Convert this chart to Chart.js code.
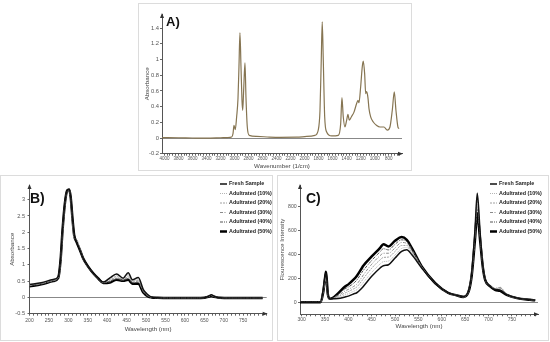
<!DOCTYPE html>
<html>
<head>
<meta charset="utf-8">
<script src="https://cdn.jsdelivr.net/npm/chart.js@4.4.0/dist/chart.umd.min.js"></script>
<style>
    body { margin: 0; background: #fff; width: 550px; height: 342px; overflow: hidden; position: relative; font-family: "Liberation Sans", Arial, sans-serif; }
    .box { position: absolute; border: 1px solid #dcdcdc; box-sizing: border-box; }
    canvas { position: absolute; }
    .tag { position: absolute; font-weight: bold; line-height: 1; color: #111; }
</style>
</head>
<body>
<div class="box" style="left:138px;top:3px;width:274px;height:168px"></div>
<div class="box" style="left:0;top:175px;width:273px;height:166px"></div>
<div class="box" style="left:277px;top:175px;width:272px;height:166px"></div>
<canvas id="chartA" width="274" height="167" style="left:138px;top:3px"></canvas>
<canvas id="chartB" width="272" height="164" style="left:0;top:178px"></canvas>
<canvas id="chartC" width="271" height="164" style="left:277px;top:178px"></canvas>
<div class="tag" style="left:166px;top:15px;font-size:13px">A)</div>
<div class="tag" style="left:30px;top:191px;font-size:14px">B)</div>
<div class="tag" style="left:306px;top:191px;font-size:14px">C)</div>
<script>
// A) FTIR spectrum
const wnA = [4034, 3800, 3600, 3400, 3200, 3100, 3040, 3021, 3007, 2989, 2969, 2950, 2936, 2922, 2907, 2893, 2883, 2869, 2850, 2836,
    2817, 2789, 2683, 2500, 2351, 2113, 1970, 1852, 1805, 1780, 1762, 1748, 1733, 1713, 1685, 1613, 1519, 1485, 1467, 1448,
    1424, 1400, 1381, 1362, 1328, 1295, 1257, 1238, 1224, 1200, 1177, 1163, 1143, 1128, 1114, 1096, 1081, 1057, 1020, 971,
    924, 867, 820, 782, 749, 720, 696, 668, 653];
const absA = [0.005, 0.003, 0, -0.002, 0.003, 0.006, 0.013, 0.056, 0.162, 0.107, 0.27, 0.50, 0.906, 1.34, 0.906, 0.48, 0.353, 0.61, 0.957, 0.52,
    0.14, 0.034, 0.02, 0.012, 0.009, 0.01, 0.02, 0.034, 0.1, 0.35, 0.99, 1.48, 0.99, 0.27, 0.077, 0.026, 0.034, 0.18, 0.515, 0.27,
    0.14, 0.226, 0.30, 0.226, 0.277, 0.33, 0.44, 0.48, 0.45, 0.65, 0.906, 0.98, 0.82, 0.566, 0.59, 0.515, 0.375, 0.27, 0.204, 0.16,
    0.14, 0.14, 0.1, 0.14, 0.35, 0.587, 0.35, 0.14, 0.12];

const seriesLabels = ['Fresh Sample', 'Adultrated (10%)', 'Adultrated (20%)', 'Adultrated (30%)', 'Adultrated (40%)', 'Adultrated (50%)'];

// B) UV-Vis absorbance
const wlB = [200, 230, 261, 274, 280, 285, 291, 297, 302, 306, 311, 315, 321, 330, 338, 351, 364, 377, 390, 407,
    424, 441, 454, 465, 480, 493, 505, 514, 530, 600, 650, 660, 668, 676, 690, 750, 800];
const freshB = [0.40, 0.45, 0.55, 0.64, 1.15, 2.06, 2.88, 3.28, 3.31, 3.08, 2.37, 1.91, 1.71, 1.45, 1.20, 0.945, 0.74, 0.58, 0.47, 0.60,
    0.72, 0.59, 0.76, 0.54, 0.61, 0.24, 0.08, 0.01, -0.01, -0.02, -0.01, 0.03, 0.08, 0.03, -0.01, -0.02, -0.02];
const adult10B = [0.39, 0.44, 0.54, 0.63, 1.10, 2.00, 2.85, 3.27, 3.30, 3.05, 2.30, 1.86, 1.75, 1.47, 1.20, 0.94, 0.74, 0.58, 0.47, 0.57,
    0.68, 0.57, 0.71, 0.52, 0.57, 0.22, 0.07, 0.01, -0.01, -0.02, -0.01, 0.03, 0.07, 0.03, -0.01, -0.02, -0.02];
const adult20B = [0.38, 0.43, 0.53, 0.62, 1.08, 1.98, 2.83, 3.26, 3.29, 3.04, 2.28, 1.84, 1.79, 1.48, 1.19, 0.94, 0.73, 0.57, 0.46, 0.54,
    0.64, 0.55, 0.66, 0.50, 0.53, 0.21, 0.06, 0.01, -0.01, -0.02, -0.01, 0.02, 0.065, 0.02, -0.01, -0.02, -0.02];
const adult30B = [0.37, 0.42, 0.52, 0.61, 1.06, 1.96, 2.82, 3.26, 3.29, 3.03, 2.26, 1.82, 1.77, 1.47, 1.19, 0.93, 0.73, 0.57, 0.46, 0.51,
    0.60, 0.54, 0.62, 0.48, 0.50, 0.19, 0.05, 0.01, -0.01, -0.02, -0.01, 0.02, 0.06, 0.02, -0.01, -0.02, -0.02];
const adult40B = [0.355, 0.41, 0.51, 0.60, 1.10, 2.02, 2.86, 3.27, 3.30, 3.06, 2.32, 1.87, 1.72, 1.46, 1.20, 0.94, 0.74, 0.58, 0.45, 0.48,
    0.57, 0.52, 0.58, 0.45, 0.46, 0.17, 0.04, 0.00, -0.01, -0.02, -0.01, 0.02, 0.05, 0.02, -0.01, -0.02, -0.02];
const adult50B = [0.34, 0.40, 0.50, 0.60, 1.15, 2.06, 2.88, 3.28, 3.31, 3.08, 2.37, 1.91, 1.71, 1.45, 1.20, 0.945, 0.74, 0.58, 0.44, 0.46,
    0.54, 0.51, 0.54, 0.42, 0.42, 0.15, 0.03, 0.00, -0.01, -0.02, -0.01, 0.02, 0.04, 0.02, -0.01, -0.02, -0.02];

// C) fluorescence
const wlC = [296, 340, 346, 350, 352, 354, 356, 361, 366, 378, 393, 400, 411, 418, 429, 432, 450, 468, 475, 486,
    500, 514, 525, 536, 557, 586, 614, 630, 646, 657, 664, 671, 676, 682, 688, 693, 703, 714, 725, 739, 761, 789, 800];
const freshC = [0, 0, 100, 215, 240, 190, 80, 28, 30, 32, 45, 52, 70, 80, 120, 133, 217, 287, 306, 314,
    370, 425, 439, 397, 287, 155, 80, 60, 48, 92, 245, 600, 911, 590, 300, 192, 135, 108, 102, 64, 36, 22, 17];
const adult10C = [0, 0, 95, 190, 215, 170, 75, 28, 31, 40, 62, 72, 92, 105, 150, 165, 250, 320, 340, 345,
    395, 450, 458, 410, 290, 157, 80, 60, 47, 91, 242, 590, 880, 585, 300, 192, 137, 112, 118, 66, 36, 22, 17];
const adult20C = [0, 0, 90, 180, 205, 165, 72, 28, 32, 48, 78, 90, 112, 128, 180, 197, 285, 355, 375, 378,
    425, 475, 475, 420, 293, 158, 80, 60, 47, 90, 238, 575, 850, 575, 298, 191, 138, 115, 122, 66, 36, 22, 17];
const adult30C = [0, 0, 85, 170, 195, 160, 70, 29, 33, 56, 95, 108, 132, 152, 210, 228, 318, 390, 410, 410,
    455, 500, 492, 432, 296, 159, 79, 60, 46, 89, 232, 560, 815, 560, 296, 190, 138, 116, 125, 65, 36, 22, 17];
const adult40C = [0, 0, 82, 165, 200, 155, 70, 29, 34, 65, 113, 128, 158, 185, 250, 266, 350, 422, 448, 438,
    485, 522, 507, 443, 298, 160, 79, 60, 46, 87, 226, 540, 780, 545, 293, 188, 137, 112, 120, 64, 35, 21, 17];
const adult50C = [0, 0, 80, 200, 255, 180, 70, 30, 35, 75, 133, 150, 189, 220, 287, 305, 383, 455, 486, 467,
    514, 545, 522, 453, 300, 161, 78, 60, 45, 85, 220, 520, 745, 520, 290, 185, 135, 105, 95, 62, 35, 21, 17];

// line look per series (same order as seriesLabels)
const seriesStyles = [
    { color: '#111', width: 1.5, dash: [] },
    { color: '#b4b4b4', width: 1, dash: [1, 1] },
    { color: '#a0a0a0', width: 1, dash: [2, 1] },
    { color: '#8a8a8a', width: 1, dash: [3, 1.5, 1, 1.5] },
    { color: '#555', width: 1, dash: [3, 1, 1, 1] },
    { color: '#000', width: 2.5, dash: [] }
];

const fontFamily = '"Liberation Sans", Arial, sans-serif';
const titleFont = { family: fontFamily, size: 6.2 };

function toPoints(xs, ys) {
    return xs.map((x, i) => ({ x: x, y: ys[i] }));
}

function buildSeries(xs, list) {
    return list.map((ys, i) => ({
        label: seriesLabels[i],
        data: toPoints(xs, ys),
        borderColor: seriesStyles[i].color,
        borderWidth: seriesStyles[i].width,
        borderDash: seriesStyles[i].dash,
        fill: false
    }));
}

// little arrow heads at the end of both axes
const axisArrows = {
    id: 'axisArrows',
    afterDraw(chart) {
        const { left, right, top, bottom } = chart.chartArea;
        const ctx = chart.ctx;
        ctx.save();
        ctx.fillStyle = '#333';
        ctx.beginPath();
        ctx.moveTo(left, top - 1); ctx.lineTo(left - 2, top + 4); ctx.lineTo(left + 2, top + 4);
        ctx.fill();
        ctx.beginPath();
        ctx.moveTo(right + 1, bottom); ctx.lineTo(right - 4, bottom - 2); ctx.lineTo(right - 4, bottom + 2);
        ctx.fill();
        ctx.restore();
    }
};

// legend column inside the plot (top right)
const sideLegend = {
    id: 'sideLegend',
    afterDatasetsDraw(chart, args, opts) {
        if (!opts || opts.x == null) return;
        const ctx = chart.ctx;
        ctx.save();
        ctx.font = 'bold 5.4px ' + fontFamily;
        ctx.textBaseline = 'middle';
        chart.data.datasets.forEach((ds, i) => {
            const y = opts.y + i * opts.rowH;
            ctx.strokeStyle = ds.borderColor;
            ctx.lineWidth = ds.borderWidth;
            ctx.setLineDash(ds.borderDash || []);
            ctx.beginPath(); ctx.moveTo(opts.x, y); ctx.lineTo(opts.x + 7, y); ctx.stroke();
            ctx.setLineDash([]);
            ctx.fillStyle = '#222';
            ctx.fillText(ds.label, opts.x + 9, y);
        });
        ctx.restore();
    }
};

function spectrumChart(id, cfg) {
    return new Chart(document.getElementById(id), {
        type: 'line',
        data: { datasets: cfg.datasets },
        options: {
            animation: false, responsive: false, devicePixelRatio: 1,
            layout: { padding: { top: cfg.padTop, right: cfg.padRight, left: 0, bottom: 0 } },
            elements: { point: { radius: 0 }, line: { cubicInterpolationMode: 'monotone' } },
            plugins: { legend: { display: false }, tooltip: { enabled: false }, sideLegend: cfg.legend || {} },
            scales: {
                x: {
                    type: 'linear', reverse: !!cfg.reverse, min: cfg.xMin, max: cfg.xMax,
                    afterFit: s => { s.height = cfg.xAxisH; },
                    border: { color: '#555' },
                    grid: { drawOnChartArea: false, tickLength: 2, color: '#666' },
                    ticks: {
                        stepSize: cfg.xStep, autoSkip: false, maxRotation: 0, minRotation: 0, includeBounds: false,
                        padding: cfg.xTickPad, font: { family: fontFamily, size: cfg.xTickSize }, color: '#555',
                        callback: v => (Math.round(v) % cfg.xMajor === 0 && v <= cfg.xLabelMax) ? String(Math.round(v)) : ''
                    },
                    title: { display: true, text: cfg.xTitle, font: titleFont, color: '#444', padding: { top: 0, bottom: cfg.xTitlePad } }
                },
                y: {
                    min: cfg.yMin, max: cfg.yMax,
                    afterFit: s => { s.width = cfg.yAxisW; },
                    border: { color: '#555' },
                    grid: {
                        tickLength: 2, tickColor: '#666',
                        color: c => (c.tick && Math.abs(c.tick.value) < 1e-9) ? '#888' : 'rgba(0,0,0,0)'
                    },
                    ticks: {
                        stepSize: cfg.yStep, includeBounds: false, padding: cfg.yTickPad,
                        font: { family: fontFamily, size: cfg.yTickSize }, color: '#555',
                        callback: v => String(Math.round(v * 10) / 10)
                    },
                    title: { display: true, text: cfg.yTitle, font: titleFont, color: '#444', padding: { top: cfg.yTitlePad, bottom: 0 } }
                }
            }
        },
        plugins: [axisArrows, sideLegend]
    });
}

spectrumChart('chartA', {
    datasets: [{ label: 'Absorbance', data: toPoints(wnA, absA), borderColor: '#867552', borderWidth: 1.2, fill: false }],
    reverse: true, xMin: 610, xMax: 4034, xStep: 40, xMajor: 200, xLabelMax: 4000,
    yMin: -0.2, yMax: 1.58, yStep: 0.2,
    padTop: 11, padRight: 10, xAxisH: 16.3, yAxisW: 24,
    xTickSize: 4.5, yTickSize: 5.8,
    xTickPad: 0.6, xTitlePad: 0.4, yTickPad: 1, yTitlePad: 5.4,
    xTitle: 'Wavenumber (1/cm)', yTitle: 'Absorbance'
});

spectrumChart('chartB', {
    datasets: buildSeries(wlB, [freshB, adult10B, adult20B, adult30B, adult40B, adult50B]),
    xMin: 200, xMax: 810.5, xStep: 10, xMajor: 50, xLabelMax: 750,
    yMin: -0.5, yMax: 3.45, yStep: 0.5,
    padTop: 7, padRight: 5.3, xAxisH: 28.3, yAxisW: 29.5,
    xTickSize: 5, yTickSize: 5.6,
    xTickPad: 2, xTitlePad: 9.1, yTickPad: 2.5, yTitlePad: 8.1,
    xTitle: 'Wavelength (nm)', yTitle: 'Absorbance',
    legend: { x: 220, y: 6, rowH: 9.5 }
});

spectrumChart('chartC', {
    datasets: buildSeries(wlC, [freshC, adult10C, adult20C, adult30C, adult40C, adult50C]),
    xMin: 296.5, xMax: 806, xStep: 10, xMajor: 50, xLabelMax: 750,
    yMin: -100, yMax: 980, yStep: 200,
    padTop: 7, padRight: 10, xAxisH: 27.7, yAxisW: 23,
    xTickSize: 5, yTickSize: 5.2,
    xTickPad: 0.7, xTitlePad: 11.7, yTickPad: 1.3, yTitlePad: 1.7,
    xTitle: 'Wavelength (nm)', yTitle: 'Flourescence Intensity',
    legend: { x: 213, y: 6, rowH: 9.5 }
});
</script>
</body>
</html>
